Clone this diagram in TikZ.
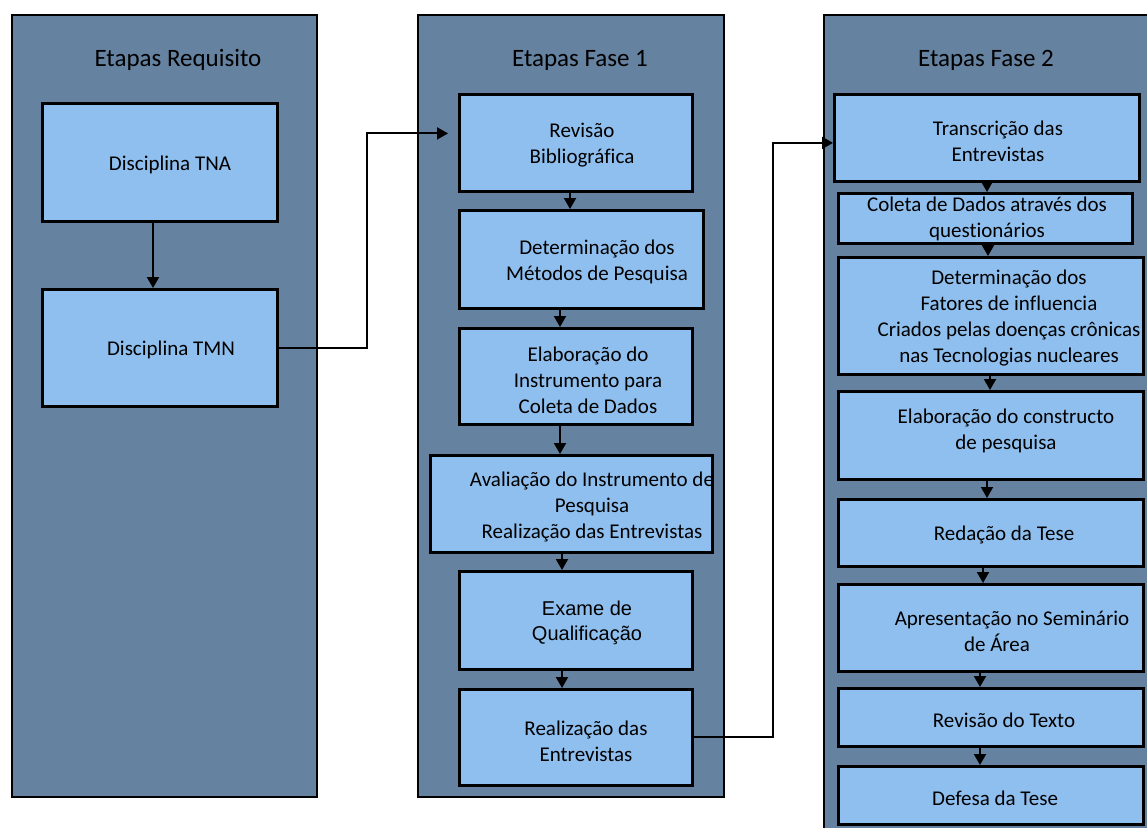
\documentclass[tikz,border=0pt]{standalone}
\usepackage{fontspec}
\setmainfont{Carlito}[Ligatures=CommonOff]
\newfontfamily\arialfont{Liberation Sans}
\usetikzlibrary{arrows.meta}
\definecolor{panelfill}{RGB}{101,130,160}
\definecolor{boxfill}{RGB}{143,191,238}
\begin{document}
\begin{tikzpicture}[x=1pt,y=-1pt,
  panel/.style={draw=black, line width=2.2pt, fill=panelfill, inner sep=0pt, anchor=north west},
  stagebox/.style={draw=black, line width=2.8pt, fill=boxfill, inner sep=0pt, anchor=north west},
  stagetext/.style={font=\fontsize{21}{26}\selectfont, align=center, inner sep=0pt, yshift=-2pt},
  arialtext/.style={font=\arialfont\fontsize{20}{25}\selectfont, align=center, inner sep=0pt, yshift=-2pt},
  paneltitle/.style={font=\fontsize{25}{30}\selectfont, inner sep=0pt, yshift=-2pt},
  arr/.style={line width=2pt, -{Triangle[length=11pt,width=12pt]}}
]
\clip (0,0) rectangle (1147,827);
\fill[white] (0,0) rectangle (1147,827);

% three columns
\node[panel, minimum width=305, minimum height=782] (p1) at (11,14) {};
\node[panel, minimum width=306, minimum height=782] (p2) at (417,14) {};
\node[panel, minimum width=340, minimum height=830] (p3) at (823,14) {};
\node[paneltitle] (t1) at (178,58) {Etapas Requisito};
\node[paneltitle] (t2) at (580,58) {Etapas Fase 1};
\node[paneltitle] (t3) at (986,58) {Etapas Fase 2};

% column 1
\node[stagebox, minimum width=235, minimum height=118] (tna) at (41,102) {};
\node[stagebox, minimum width=235, minimum height=117] (tmn) at (41,288) {};
\node[stagetext] (tnaT) at (170,163) {Disciplina TNA};
\node[stagetext] (tmnT) at (171,348) {Disciplina TMN};

% column 2
\node[stagebox, minimum width=233, minimum height=97] (rev) at (458,93) {};
\node[stagebox, minimum width=244, minimum height=98] (detm) at (458,209) {};
\node[stagebox, minimum width=233, minimum height=96] (elab) at (458,327) {};
\node[stagebox, minimum width=282, minimum height=97] (aval) at (429,454) {};
\node[stagebox, minimum width=233, minimum height=98] (exame) at (458,570) {};
\node[stagebox, minimum width=233, minimum height=96] (real) at (458,688) {};
\node[stagetext] (revT) at (582,143) {Revisão\\Bibliográfica};
\node[stagetext] (detmT) at (597,260) {Determinação dos\\Métodos de Pesquisa};
\node[stagetext] (elabT) at (588,378) {Elaboração do\\Instrumento para\\Coleta de Dados};
\node[stagetext] (avalT) at (592,505) {Avaliação do Instrumento de\\Pesquisa\hspace*{32pt}\\Realização das Entrevistas};
\node[arialtext] (exameT) at (587,621) {Exame de\\Qualificação};
\node[stagetext] (realT) at (586,739) {Realização das\\Entrevistas};

% column 3
\node[stagebox, minimum width=305, minimum height=87] (trans) at (833,93) {};
\node[stagebox, minimum width=294, minimum height=50] (coleta) at (837,192) {};
\node[stagebox, minimum width=305, minimum height=117] (detf) at (837,256) {};
\node[stagebox, minimum width=305, minimum height=88] (constr) at (837,390) {};
\node[stagebox, minimum width=305, minimum height=67] (redacao) at (837,498) {};
\node[stagebox, minimum width=305, minimum height=87] (apres) at (837,583) {};
\node[stagebox, minimum width=305, minimum height=58] (revtxt) at (837,687) {};
\node[stagebox, minimum width=305, minimum height=58] (defesa) at (837,765) {};
\node[stagetext] (transT) at (998,139) {Transcrição das\\Entrevistas};
\node[stagetext] (coletaT) at (987,217) {Coleta de Dados através dos\\questionários};
\node[stagetext] (detfT) at (1009,316) {Determinação dos\\Fatores de influencia\\Criados pelas doenças crônicas\\nas Tecnologias nucleares};
\node[stagetext] (constrT) at (1006,429) {Elaboração do constructo\\de pesquisa};
\node[stagetext] (redacaoT) at (1004,533) {Redação da Tese};
\node[stagetext] (apresT) at (1012,629) {Apresentação no Seminário\\de Área\hspace*{30pt}};
\node[stagetext] (revtxtT) at (1004,718) {Revisão do Texto};
\node[stagetext] (defesaT) at (995,796) {Defesa da Tese};

% links inside the columns
\draw[arr] (153,0 |- tna.south) -- (153,0 |- tmn.north);
\draw[arr] (570,0 |- rev.south) -- (570,0 |- detm.north);
\draw[arr] (560,0 |- detm.south) -- (560,0 |- elab.north);
\draw[arr] (560,0 |- elab.south) -- (560,0 |- aval.north);
\draw[arr] (562,0 |- aval.south) -- (562,0 |- exame.north);
\draw[arr] (562,0 |- exame.south) -- (562,0 |- real.north);
\draw[arr] (987,0 |- trans.south) -- (987,0 |- coleta.north);
\draw[arr] (988,0 |- coleta.south) -- (988,0 |- detf.north);
\draw[arr] (990,0 |- detf.south) -- (990,0 |- constr.north);
\draw[arr] (987,0 |- constr.south) -- (987,0 |- redacao.north);
\draw[arr] (983,0 |- redacao.south) -- (983,0 |- apres.north);
\draw[arr] (980,0 |- apres.south) -- (980,0 |- revtxt.north);
\draw[arr] (980,0 |- revtxt.south) -- (980,0 |- defesa.north);

% links between the columns
\draw[arr] (tmn.east) -- (367,0 |- tmn.east) |- ([yshift=9.5pt,xshift=-10pt]rev.west);
\draw[arr] (real.east) -- (773,0 |- real.east) |- ([yshift=-5pt]trans.west);
\end{tikzpicture}
\end{document}
